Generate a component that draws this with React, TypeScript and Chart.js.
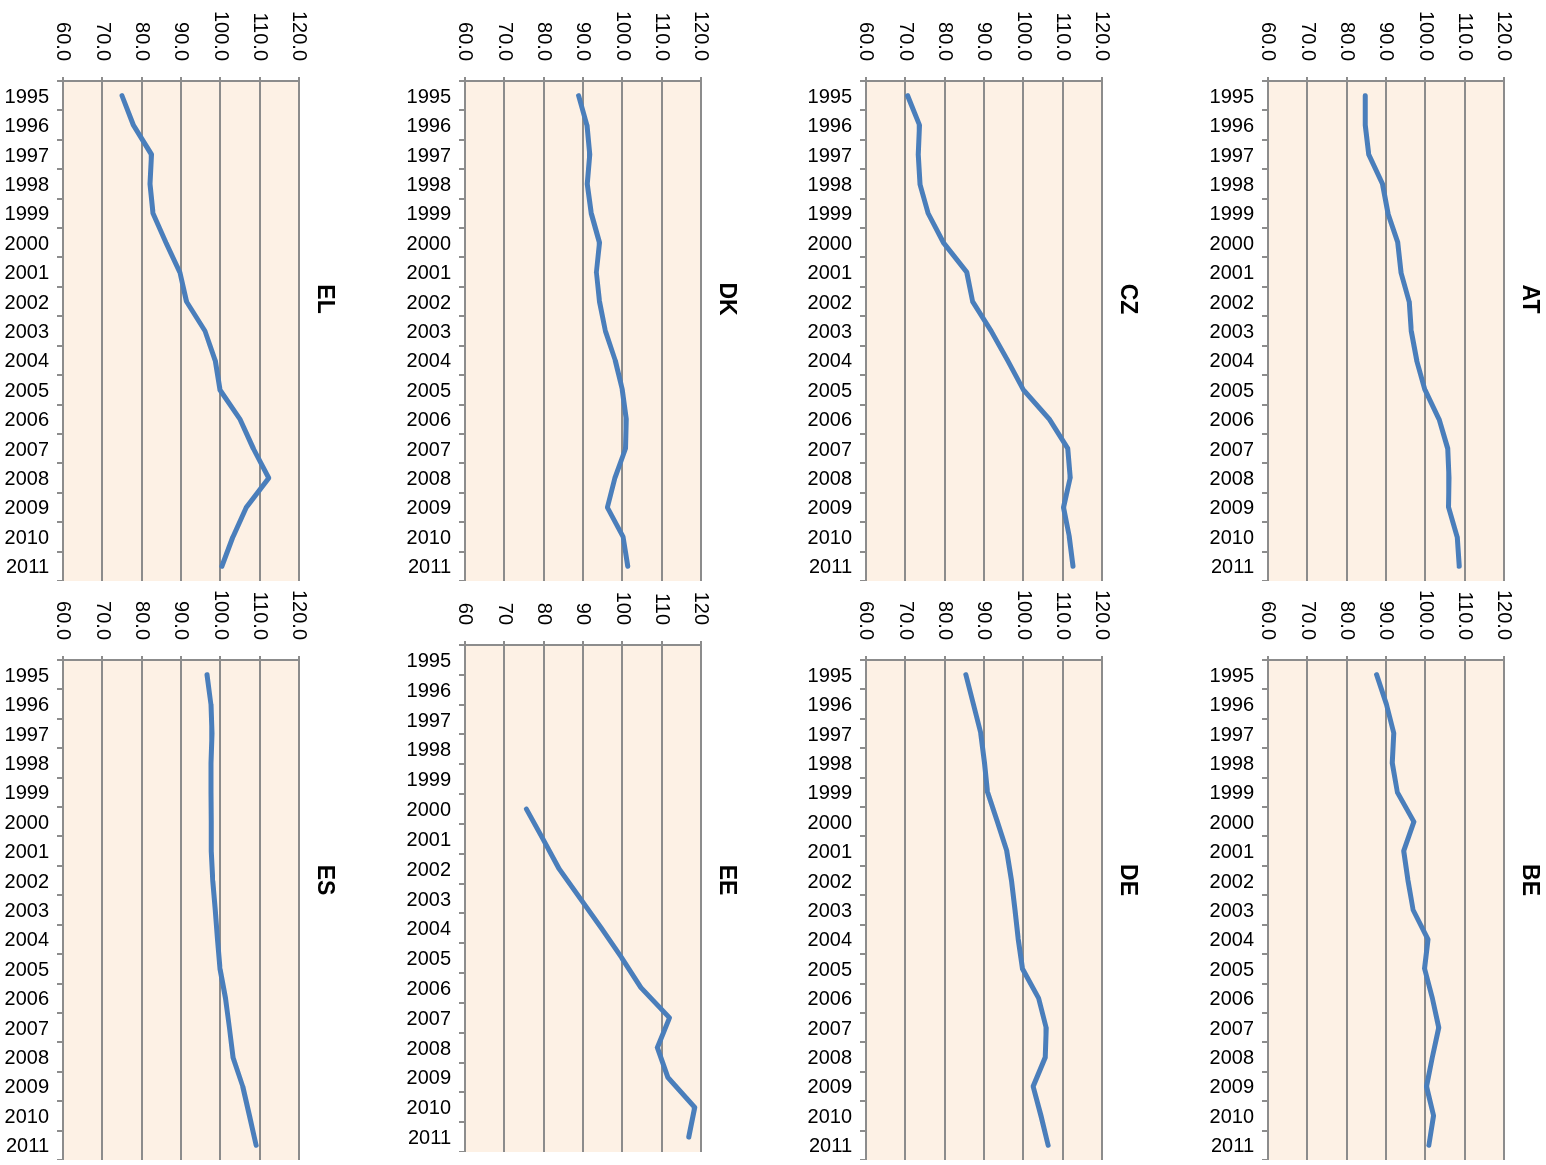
import React, { useEffect, useRef } from 'react';
import { Chart, registerables } from 'chart.js';

Chart.register(...registerables);

const years = ['1995', '1996', '1997', '1998', '1999', '2000', '2001', '2002', '2003', '2004', '2005', '2006', '2007', '2008', '2009', '2010', '2011'];

const AT = [84.7, 84.7, 85.6, 89.1, 90.5, 93.0, 93.8, 95.9, 96.4, 97.8, 99.9, 103.5, 105.7, 106.0, 105.9, 108.1, 108.6];
const BE = [87.6, 90.1, 92.0, 91.6, 92.9, 97.1, 94.5, 95.6, 96.9, 100.7, 99.8, 101.8, 103.4, 101.8, 100.3, 102.1, 100.9];
const CZ = [70.6, 73.6, 73.3, 73.7, 75.8, 79.7, 85.6, 87.1, 91.8, 96.0, 100.0, 106.6, 111.3, 111.9, 110.2, 111.7, 112.6];
const DE = [85.4, 87.3, 89.2, 90.1, 90.9, 93.4, 95.8, 97.0, 97.9, 98.7, 99.8, 103.9, 105.8, 105.6, 102.5, 104.5, 106.3];
const DK = [88.9, 91.0, 91.7, 91.1, 92.1, 94.2, 93.4, 94.2, 95.7, 98.2, 100.0, 101.0, 100.8, 98.1, 96.2, 100.2, 101.4];
const EE = [null, null, null, null, null, 75.6, 79.8, 83.9, 89.3, 94.7, 99.9, 104.8, 112.0, 108.9, 111.6, 118.4, 116.9];
const EL = [75.0, 77.9, 82.5, 82.1, 82.9, 86.2, 89.7, 91.4, 96.1, 98.7, 99.9, 105.0, 108.4, 112.3, 106.6, 103.2, 100.4];
const ES = [96.6, 97.6, 97.9, 97.6, 97.6, 97.7, 97.7, 98.1, 98.7, 99.3, 99.9, 101.3, 102.3, 103.2, 105.7, 107.4, 109.1];

const valueMin = 60;
const valueMax = 120;
const valueStep = 10;

const FONT = "'Liberation Sans', Arial, Helvetica, sans-serif";
const GRID = '#8c8c8c';
const LINE = '#4A7EBB';
const PLOT_BG = '#FDF1E5';

type PanelDef = {
  title: string;
  data: (number | null)[];
  left: number;
  top: number;
  width: number;
  axisW: number;
  titleX: number;
  decimals: boolean;
};

const CANVAS_H = 345;
const PLOT_TOP = 42;
const PLOT_BOTTOM = 278;
const TITLE_Y = 17;
const rowTops = [0, 402, 803, 1205];

const panels: PanelDef[] = [
  { title: 'AT', data: AT, left: 0, top: rowTops[0], width: 581, axisW: 81, titleX: 299, decimals: true },
  { title: 'CZ', data: CZ, left: 0, top: rowTops[1], width: 581, axisW: 81, titleX: 299, decimals: true },
  { title: 'DK', data: DK, left: 0, top: rowTops[2], width: 581, axisW: 81, titleX: 299, decimals: true },
  { title: 'EL', data: EL, left: 0, top: rowTops[3], width: 581, axisW: 81, titleX: 299, decimals: true },
  { title: 'BE', data: BE, left: 582, top: rowTops[0], width: 578, axisW: 78, titleX: 298, decimals: true },
  { title: 'DE', data: DE, left: 582, top: rowTops[1], width: 578, axisW: 78, titleX: 298, decimals: true },
  { title: 'EE', data: EE, left: 582, top: rowTops[2], width: 570, axisW: 63, titleX: 298, decimals: false },
  { title: 'ES', data: ES, left: 582, top: rowTops[3], width: 578, axisW: 78, titleX: 298, decimals: true },
];

const bgPlugin = {
  id: 'plotBg',
  beforeDraw(chart: any) {
    const { ctx, chartArea: a } = chart;
    if (!a) return;
    ctx.save();
    ctx.fillStyle = PLOT_BG;
    ctx.fillRect(a.left, a.top, a.right - a.left, a.bottom - a.top);
    ctx.restore();
  },
};

const titlePlugin = {
  id: 'panelTitle',
  afterDraw(chart: any, _args: any, opts: any) {
    const { ctx } = chart;
    ctx.save();
    ctx.fillStyle = '#000';
    ctx.font = `bold 23px ${FONT}`;
    ctx.textAlign = 'center';
    ctx.textBaseline = 'middle';
    ctx.fillText(opts.text, opts.x, opts.y);
    ctx.restore();
  },
};

function Panel({ p }: { p: PanelDef }) {
  const ref = useRef<HTMLCanvasElement | null>(null);
  useEffect(() => {
    if (!ref.current) return;
    const xh = CANVAS_H - PLOT_BOTTOM;
    const chart = new Chart(ref.current, {
      type: 'line',
      data: {
        labels: years,
        datasets: [
          {
            data: p.data,
            borderColor: LINE,
            borderWidth: 5,
            pointRadius: 0,
            pointHoverRadius: 0,
            tension: 0,
            fill: false,
            borderCapStyle: 'round',
            borderJoinStyle: 'round',
            spanGaps: false,
          } as any,
        ],
      },
      options: {
        responsive: false,
        animation: false,
        devicePixelRatio: 1,
        layout: { padding: { left: 0, right: 0, top: PLOT_TOP, bottom: 0 } },
        plugins: {
          legend: { display: false },
          tooltip: { enabled: false },
          title: { display: false },
          panelTitle: { text: p.title, x: p.titleX, y: TITLE_Y },
        },
        scales: {
          x: {
            type: 'category',
            offset: true,
            grid: {
              offset: true,
              drawOnChartArea: false,
              drawTicks: true,
              tickLength: 6,
              color: GRID,
              lineWidth: 2,
            },
            border: { display: true, color: GRID, width: 2 },
            ticks: {
              autoSkip: false,
              minRotation: 90,
              maxRotation: 90,
              padding: 8,
              labelOffset: 1.5,
              color: '#000',
              font: { family: FONT, size: 20 },
            },
            afterFit: (s: any) => {
              s.height = xh;
              s.paddingLeft = 0;
              s.paddingRight = 0;
              s.paddingTop = 0;
              s.paddingBottom = 0;
            },
          },
          y: {
            min: valueMin,
            max: valueMax,
            grid: { color: GRID, lineWidth: 2, tickLength: 4, drawTicks: true },
            border: { display: true, color: GRID, width: 2 },
            ticks: {
              stepSize: valueStep,
              padding: 16,
              color: '#000',
              font: { family: FONT, size: 20 },
              callback: (v: any) => (p.decimals ? Number(v).toFixed(1) : String(v)),
            },
            afterFit: (s: any) => {
              s.width = p.axisW;
              s.paddingLeft = 0;
              s.paddingRight = 0;
              s.paddingTop = 0;
              s.paddingBottom = 0;
            },
          },
        },
      } as any,
      plugins: [bgPlugin, titlePlugin],
    });
    return () => chart.destroy();
  }, [p]);
  return (
    <canvas
      ref={ref}
      width={p.width}
      height={CANVAS_H}
      style={{ position: 'absolute', left: p.left, top: p.top, width: p.width, height: CANVAS_H }}
    />
  );
}

export default function App() {
  return (
    <div
      style={{
        position: 'fixed',
        left: 0,
        top: 0,
        width: 1546,
        height: 1165,
        overflow: 'hidden',
        background: '#fff',
      }}
    >
      <div
        style={{
          position: 'absolute',
          left: 0,
          top: 0,
          width: 1165,
          height: 1546,
          transformOrigin: '0 0',
          transform: 'translate(1546px, 0px) rotate(90deg)',
          background: '#fff',
        }}
      >
        {panels.map((p) => (
          <Panel key={p.title} p={p} />
        ))}
      </div>
    </div>
  );
}
